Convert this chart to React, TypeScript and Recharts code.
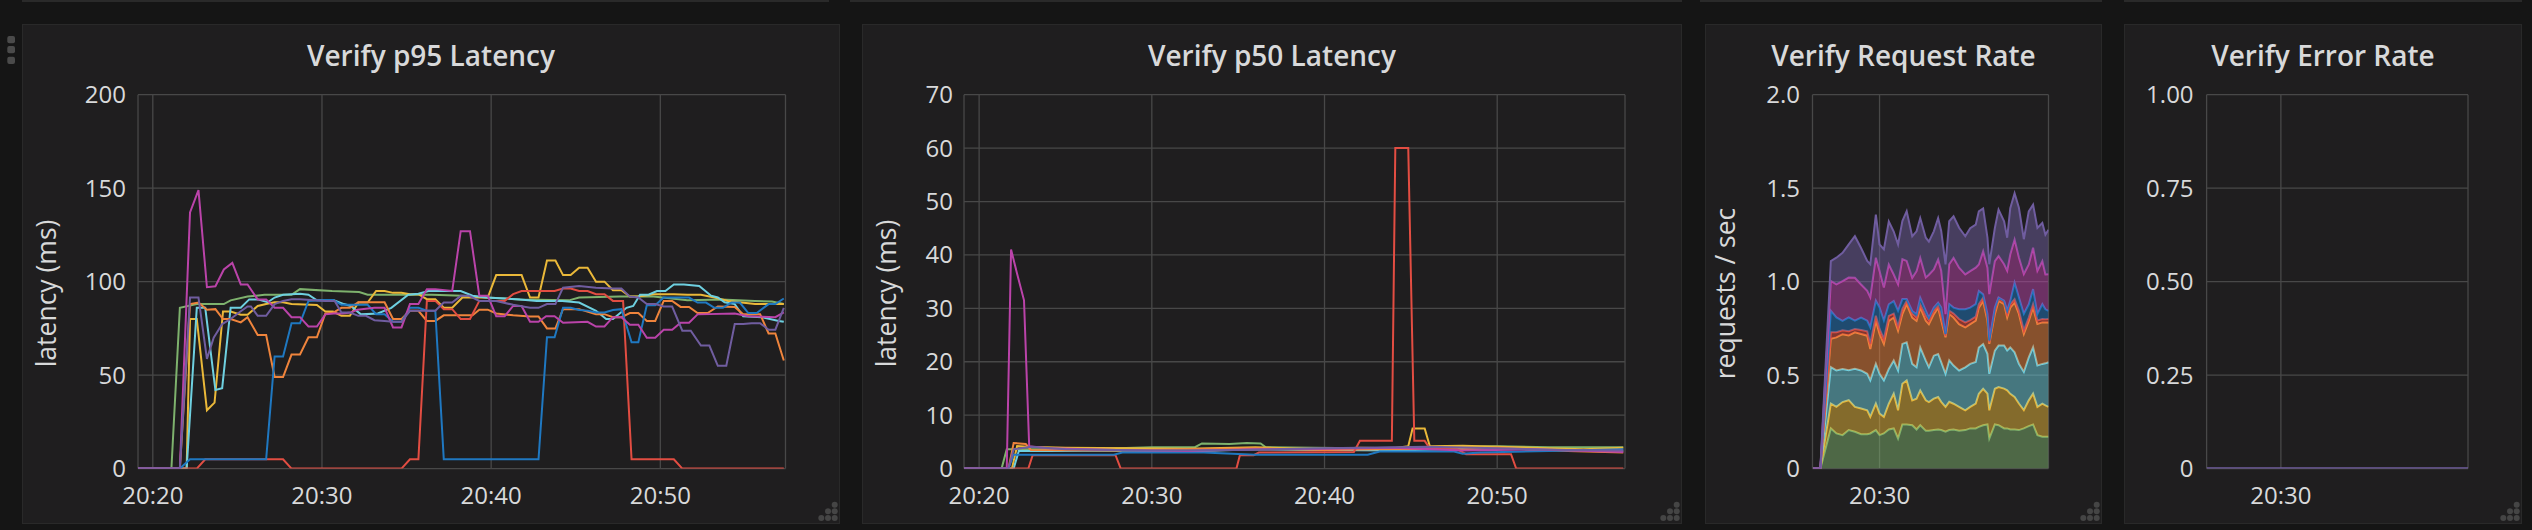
import React from 'react';
import { LineChart, Line, AreaChart, Area, XAxis, YAxis, CartesianGrid } from 'recharts';

// ---------- shared time axis (minutes after 20:20) ----------
const T_START = -0.875;
const T_END = 37.4;
const TIME_TICKS = [0, 10, 20, 30];
const NARROW_TIME_TICKS = [10];

// ---------- colours (Grafana classic palette) ----------
const GREEN = '#7EB26D';
const YELLOW = '#EAB839';
const CYAN = '#6ED0E0';
const ORANGE = '#EF843C';
const RED = '#E24D42';
const BLUE = '#1F78C1';
const MAGENTA = '#BA43A9';
const PURPLE = '#705DA0';

// ---------- Verify p95 Latency (t, ms) ----------
const p95Green: [number, number][] = [[-0.875,0],[1.1,0],[1.6,86],[2.6,88],[4.2,88],[4.6,90],[5.6,92],[6.6,93],[8.2,93],[8.7,96],[10.6,95],[12.2,94.5],[12.7,93],[16.5,93],[18.3,92.5],[19.7,91.5],[21.7,90.5],[24.6,90],[25.2,91.5],[27.6,92],[29.6,92],[31.6,90],[33.6,90.5],[35.6,89.7],[36.6,89.4],[37.3,88]];
const p95Yellow: [number, number][] = [[-0.875,0],[2.0,0],[2.2,80],[2.6,80],[3.2,31.2],[3.65,35.3],[4.15,84],[4.6,84],[5.2,82.3],[5.6,82.3],[6.2,87],[6.7,88],[7.2,89],[7.7,89],[8.2,88],[9.7,87.5],[10.2,84],[10.65,84],[11.15,81.7],[11.65,81.7],[12.15,88.8],[12.7,88.8],[13.2,95],[13.7,95],[14.2,94],[14.7,94],[15.2,93.3],[15.7,93.3],[16.2,90.6],[16.7,90.6],[17.2,86],[17.7,86],[18.3,91.5],[19.8,91.5],[20.3,103.5],[21.8,103.5],[22.3,91.5],[22.8,91.5],[23.3,111.3],[23.8,111.3],[24.25,103.5],[24.7,103.5],[25.2,107.4],[25.7,107.4],[26.2,100],[26.7,100],[27.2,95.4],[27.7,95.4],[28.2,92],[28.7,92],[29.6,93.3],[30.8,93.3],[31.6,93],[32.4,93],[33.2,91.5],[34.0,89.7],[34.8,88.8],[35.6,88],[37.3,88]];
const p95Cyan: [number, number][] = [[-0.875,0],[2.0,0],[2.6,86],[3.1,86],[3.7,42],[4.1,43],[4.6,86],[5.2,86],[5.7,90.5],[6.2,90.5],[6.8,89],[7.2,91.5],[7.7,93],[8.7,93.5],[9.2,93],[9.7,90],[10.7,90],[11.3,88],[11.7,87],[12.3,82.5],[13.3,83],[14.1,86],[15.1,93],[15.7,93.5],[16.3,95],[18.2,95],[18.9,92.5],[19.7,91.5],[21.7,90.5],[22.7,89.7],[24.2,89.7],[25.2,88.8],[26.2,84.4],[26.8,80],[27.2,80],[28.0,86],[28.4,87],[28.8,93],[29.3,93],[29.8,95],[30.3,95],[30.8,98.5],[31.4,98.5],[32.3,97.7],[33.0,92.5],[33.4,91.5],[33.8,89],[34.4,88],[34.9,81.5],[36.0,81],[37.0,79],[37.3,78.5]];
const p95Orange: [number, number][] = [[-0.875,0],[1.6,0],[2.2,88],[2.7,88.8],[3.2,85],[3.7,85.3],[4.15,80],[4.6,80],[5.2,78.2],[5.6,81],[6.2,71.5],[6.7,71.5],[7.2,49],[7.7,49],[8.2,61],[8.7,61],[9.2,70.2],[9.7,70.2],[10.2,83],[10.65,83.3],[11.15,86],[11.65,86],[12.15,89],[13.7,89],[14.2,80],[14.7,80],[15.2,84.4],[15.7,84.4],[16.2,79],[16.7,79],[17.2,82],[18.9,82],[19.3,85],[19.8,85],[20.3,83],[21.3,82],[22.3,81.4],[22.8,81.4],[23.3,75],[23.8,75],[24.25,85.3],[25.2,85.3],[26.2,82.6],[26.7,82.6],[27.2,81],[27.7,81],[28.2,83.2],[28.7,83.2],[29.2,79],[29.7,79],[30.2,89.7],[30.7,89.7],[31.2,86.5],[31.7,86.5],[32.2,83.2],[32.8,83.2],[33.4,86.7],[34.4,86.5],[34.9,82.6],[35.9,82.6],[36.4,72.3],[36.8,72.3],[37.3,57.8]];
const p95Red: [number, number][] = [[-0.875,0],[2.6,0],[3.1,5],[7.7,5],[8.2,0],[14.7,0],[15.2,5],[15.7,5],[16.2,89.7],[16.7,89.7],[17.2,85.3],[17.7,85.3],[18.2,80],[18.75,80],[19.3,89.7],[20.8,89.7],[21.3,93.3],[21.8,95],[23.75,95],[24.25,96.3],[24.7,96.3],[25.2,95],[25.7,95],[26.2,93.3],[26.7,93.3],[27.2,89.7],[27.8,89.7],[28.3,5],[30.8,5],[31.3,0],[37.3,0]];
const p95Blue: [number, number][] = [[-0.875,0],[1.6,0],[2.2,5],[6.7,5],[7.2,60],[7.7,60],[8.2,77.7],[8.7,77.7],[9.2,89.7],[10.2,90.2],[10.65,90.2],[11.15,87.6],[12.7,87.6],[13.2,82.6],[13.7,82.6],[14.2,78.5],[14.7,78.5],[15.2,86],[15.7,86],[16.2,84.4],[16.7,84.4],[17.2,5],[22.8,5],[23.3,70.2],[23.75,70.2],[24.25,86],[24.7,86],[25.2,84.8],[25.7,84.5],[26.2,83.5],[26.7,83.5],[27.2,84.8],[27.7,85.3],[28.3,67.6],[28.7,67.6],[29.2,87.4],[29.7,87.4],[30.2,91.5],[31.7,91.5],[32.2,88.8],[32.7,88.8],[33.2,86],[33.7,86],[34.2,88.8],[34.7,88.8],[35.2,83.2],[35.7,83.2],[36.4,88],[36.8,88],[37.3,91]];
const p95Magenta: [number, number][] = [[-0.875,0],[1.6,0],[2.2,137],[2.7,149],[3.2,97],[3.7,97.5],[4.2,106.5],[4.7,110],[5.2,98.5],[5.6,98.5],[6.2,90.5],[6.7,90.5],[7.2,86],[7.7,86],[8.2,81],[8.7,81],[9.2,76],[9.7,76],[10.2,82.5],[10.7,83],[11.2,83],[11.7,83.5],[12.1,85],[13.1,86],[13.7,86],[14.2,75.5],[14.7,75.5],[15.2,88],[15.7,88],[16.2,96],[16.7,96],[17.7,95],[18.2,127],[18.75,127],[19.3,92.5],[19.8,92.5],[20.3,81.5],[20.8,81.5],[21.3,87],[21.8,87],[22.3,78.5],[22.8,78.5],[23.25,81.5],[23.75,81.5],[24.25,78],[25.7,78.5],[26.2,76],[26.7,76],[27.2,81],[27.7,81],[28.2,77],[28.7,77],[29.2,70],[29.7,70],[30.2,74.3],[30.7,74.3],[31.2,78],[31.7,78],[32.2,82.5],[34.4,83],[35.2,81.5],[36.8,81],[37.3,83.5]];
const p95Purple: [number, number][] = [[-0.875,0],[1.6,0],[2.2,91.5],[2.7,91.5],[3.2,58.7],[3.6,70],[4.1,77.3],[4.6,80],[5.1,83.5],[5.6,86.7],[5.8,86.7],[6.2,81.7],[6.7,81.7],[7.2,88],[7.7,89.7],[8.2,90.6],[8.7,90.6],[10.2,89.7],[10.75,89.7],[11.15,83.5],[11.65,83.5],[12.15,81.7],[12.6,81.7],[13.1,79.4],[13.7,79],[14.2,78.5],[14.7,78.5],[15.2,84.4],[16.7,84.4],[17.2,88.8],[17.7,88.8],[18.2,92.4],[18.7,92.4],[19.3,89.7],[20.3,89.7],[21.3,87.6],[22.3,86],[22.8,86],[23.3,88],[23.8,88],[24.25,96.8],[25.2,97.7],[26.2,96.8],[27.2,96.3],[27.7,96.3],[28.2,92],[28.7,91.5],[29.2,88],[29.7,88],[30.2,86.7],[30.7,86.7],[31.3,73.8],[31.8,73.8],[32.4,65.8],[32.9,65.8],[33.4,55],[33.9,55],[34.4,77.3],[34.9,77.3],[35.4,77.8],[35.9,77.8],[36.4,74.3],[36.8,74.3],[37.3,86]];

// ---------- Verify p50 Latency (t, ms) ----------
const p50Green: [number, number][] = [[-0.875,0],[1.3,0],[1.6,3.6],[4,3.6],[7,3.7],[10,4.0],[12.5,4.0],[12.9,4.7],[14.5,4.6],[15.5,4.8],[16.3,4.7],[16.6,4.0],[22,3.8],[25,3.9],[30,4.2],[33,4.0],[37.3,4.0]];
const p50Yellow: [number, number][] = [[-0.875,0],[1.9,0],[2.2,4.2],[2.8,4.1],[5,3.9],[9,3.8],[12,3.7],[16,4.0],[20,3.6],[22,3.9],[24,3.8],[24.85,4.2],[25.1,7.5],[25.8,7.5],[26.1,4.2],[28,4.3],[32,3.9],[35,3.6],[37.3,3.9]];
const p50Cyan: [number, number][] = [[-0.875,0],[2.0,0],[2.3,3.3],[4,3.3],[8,3.4],[12,3.2],[16,3.6],[20,3.5],[24,3.4],[27,3.6],[30,3.8],[33,3.5],[37.3,3.4]];
const p50Orange: [number, number][] = [[-0.875,0],[1.7,0],[2.0,4.8],[2.7,4.6],[3.0,3.5],[8,3.4],[12,3.6],[16,3.8],[20,3.5],[25,3.7],[28,3.6],[30,3.9],[33,3.4],[37.3,3.0]];
const p50Red: [number, number][] = [[-0.875,0],[2.85,0],[3.1,2.5],[7.9,2.5],[8.2,0],[14.9,0],[15.1,2.5],[15.9,2.5],[16.2,3.0],[21.7,3.1],[22.05,5.2],[23.9,5.2],[24.1,60],[24.85,60],[25.2,5.2],[25.8,5.2],[26.1,3.75],[27.7,3.6],[28.2,2.7],[30.8,2.7],[31.1,0],[37.3,0]];
const p50Blue: [number, number][] = [[-0.875,0],[1.7,0],[2.0,2.6],[7.8,2.6],[8.3,3.0],[13,3.0],[16,2.6],[22.5,2.6],[23.2,3.2],[27.5,3.2],[28,2.8],[29,3.0],[33,3.3],[37.3,3.6]];
const p50Magenta: [number, number][] = [[-0.875,0],[1.6,0],[1.85,41],[2.2,36.5],[2.6,31.5],[2.9,4.2],[4,3.8],[8,3.5],[12,3.3],[16,3.6],[20,3.7],[24,3.9],[28,3.4],[32,3.6],[37.3,3.1]];
const p50Purple: [number, number][] = [[-0.875,0],[1.7,0],[2.0,3.6],[3,4.1],[5,3.6],[10,3.4],[15,3.5],[20,3.8],[24,4.0],[26,4.1],[30,3.8],[34,3.5],[37.3,3.4]];

// ---------- Verify Request Rate (stacked, requests / sec) ----------
const rateTimes = [-0.8,0.4,2.1,3.0,4.0,5.0,6.0,7.0,8.0,8.5,9.4,10.0,10.7,11.5,12.3,13.0,13.7,14.4,15.3,16.0,16.6,17.5,18.0,18.8,19.5,20.0,20.7,21.3,22.0,22.9,23.9,24.7,25.6,26.1,26.8,27.5,27.8,28.7,29.3,30.2,30.7,31.2,31.9,32.6,33.4,34.2,34.9,35.6,36.4,36.9,37.4];
const rateGreen = [0,0,0.215,0.188,0.179,0.206,0.197,0.184,0.184,0.188,0.206,0.179,0.188,0.209,0.215,0.161,0.236,0.236,0.232,0.209,0.232,0.202,0.202,0.206,0.209,0.206,0.197,0.206,0.209,0.202,0.206,0.215,0.215,0.223,0.232,0.236,0.161,0.236,0.232,0.215,0.215,0.209,0.209,0.206,0.215,0.227,0.236,0.179,0.170,0.170,0.170];
const rateYellow = [0,0,0.133,0.142,0.177,0.160,0.133,0.137,0.128,0.089,0.142,0.115,0.089,0.138,0.186,0.151,0.218,0.236,0.133,0.165,0.186,0.163,0.154,0.168,0.174,0.151,0.133,0.151,0.138,0.128,0.106,0.115,0.133,0.177,0.195,0.165,0.151,0.191,0.204,0.213,0.204,0.191,0.174,0.142,0.098,0.138,0.165,0.151,0.177,0.168,0.160];
const rateCyan = [0,0,0.195,0.195,0.177,0.160,0.204,0.204,0.195,0.195,0.213,0.213,0.195,0.186,0.177,0.213,0.213,0.204,0.195,0.168,0.230,0.213,0.186,0.230,0.230,0.213,0.177,0.222,0.204,0.195,0.230,0.230,0.222,0.248,0.239,0.213,0.195,0.204,0.222,0.230,0.213,0.248,0.239,0.213,0.204,0.230,0.248,0.222,0.213,0.225,0.239];
const rateOrange = [0,0,0.151,0.177,0.186,0.186,0.195,0.195,0.204,0.168,0.230,0.213,0.195,0.257,0.230,0.213,0.160,0.204,0.248,0.248,0.213,0.213,0.230,0.222,0.248,0.222,0.195,0.248,0.257,0.248,0.213,0.213,0.222,0.213,0.230,0.177,0.160,0.195,0.239,0.222,0.177,0.213,0.266,0.266,0.204,0.195,0.213,0.222,0.222,0.218,0.213];
const rateRed = [0,0,0.035,0.027,0.021,0.023,0.018,0.021,0.023,0.027,0.027,0.027,0.027,0.027,0.021,0.021,0.027,0.018,0.021,0.018,0.018,0.027,0.021,0.021,0.009,0.027,0.009,0.018,0.021,0.027,0.027,0.021,0.021,0.018,0.018,0.018,0.009,0.018,0.014,0.014,0.018,0.018,0.018,0.018,0.018,0.018,0.018,0.018,0.018,0.018,0.018];
const rateBlue = [0,0,0.115,0.080,0.050,0.074,0.044,0.067,0.057,0.089,0.080,0.115,0.098,0.062,0.067,0.085,0.053,0.009,0.014,0.018,0.035,0.027,0.014,0.014,0.018,0.044,0.009,0.035,0.032,0.053,0.071,0.067,0.067,0.071,0.018,0.018,0.009,0.018,0.004,0.004,0.018,0.018,0.089,0.071,0.089,0.071,0.080,0.035,0.080,0.053,0.044];
const rateMagenta = [0,0,0.160,0.177,0.213,0.213,0.230,0.177,0.160,0.160,0.230,0.195,0.177,0.213,0.142,0.142,0.213,0.204,0.177,0.230,0.213,0.177,0.230,0.204,0.230,0.195,0.106,0.213,0.266,0.222,0.186,0.195,0.195,0.142,0.230,0.248,0.248,0.248,0.222,0.195,0.213,0.248,0.230,0.213,0.213,0.213,0.222,0.230,0.230,0.186,0.195];
const ratePurple = [0,0,0.106,0.142,0.151,0.177,0.222,0.195,0.160,0.177,0.230,0.142,0.204,0.230,0.230,0.213,0.204,0.266,0.222,0.213,0.213,0.213,0.177,0.204,0.222,0.213,0.266,0.230,0.222,0.213,0.204,0.230,0.230,0.284,0.230,0.160,0.160,0.177,0.248,0.230,0.177,0.248,0.248,0.266,0.186,0.284,0.230,0.230,0.204,0.213,0.239];

// ---------- Verify Error Rate ----------
const errorPurple: [number, number][] = [[-0.875,0],[37.4,0]];

// ---------- tick values ----------
const p95Ticks = [0, 50, 100, 150, 200];
const p50Ticks = [0, 10, 20, 30, 40, 50, 60, 70];
const rateTicks = [0, 0.5, 1, 1.5, 2];
const errorTicks = [0, 0.25, 0.5, 0.75, 1];

// ---------- helpers / styles ----------
const FONT = "'Open Sans', 'DejaVu Sans', sans-serif";
const TEXT = '#d8d9da';
const GRID = '#484848';
const PANEL_BG = '#1f1e1f';
const PANEL_BORDER = '#292929';
const PAGE_BG = '#151515';
const tickStyle = { fill: TEXT, fontSize: 24, fontFamily: FONT };

const toPts = (arr: [number, number][]) => arr.map(([t, v]) => ({ t, v }));
const fmtTime = (t: number) => `20:${20 + t}`;
const fmtRate = (v: number) => (v === 0 ? '0' : v.toFixed(1));
const fmtErr = (v: number) => (v === 0 ? '0' : v.toFixed(2));

const p95Series = [
  { name: 'green', color: GREEN, data: p95Green },
  { name: 'yellow', color: YELLOW, data: p95Yellow },
  { name: 'cyan', color: CYAN, data: p95Cyan },
  { name: 'orange', color: ORANGE, data: p95Orange },
  { name: 'red', color: RED, data: p95Red },
  { name: 'blue', color: BLUE, data: p95Blue },
  { name: 'magenta', color: MAGENTA, data: p95Magenta },
  { name: 'purple', color: PURPLE, data: p95Purple },
];
const p50Series = [
  { name: 'green', color: GREEN, data: p50Green },
  { name: 'yellow', color: YELLOW, data: p50Yellow },
  { name: 'cyan', color: CYAN, data: p50Cyan },
  { name: 'orange', color: ORANGE, data: p50Orange },
  { name: 'red', color: RED, data: p50Red },
  { name: 'blue', color: BLUE, data: p50Blue },
  { name: 'magenta', color: MAGENTA, data: p50Magenta },
  { name: 'purple', color: PURPLE, data: p50Purple },
];
const rateSeries = [
  { key: 'green', color: GREEN, values: rateGreen },
  { key: 'yellow', color: YELLOW, values: rateYellow },
  { key: 'cyan', color: CYAN, values: rateCyan },
  { key: 'orange', color: ORANGE, values: rateOrange },
  { key: 'red', color: RED, values: rateRed },
  { key: 'blue', color: BLUE, values: rateBlue },
  { key: 'magenta', color: MAGENTA, values: rateMagenta },
  { key: 'purple', color: PURPLE, values: ratePurple },
];
const rateRows = rateTimes.map((t, i) => {
  const row: Record<string, number> = { t };
  rateSeries.forEach((s) => { row[s.key] = s.values[i]; });
  return row;
});

// panel geometry (page pixels)
const PLOT_TOP = 94.7;
const PLOT_BOTTOM = 468.6;
const PANEL_TOP = 24;
const PANEL_H = 500;
const LABEL_SIZE = 26.5;
const panels = [
  { title: 'Verify p95 Latency', left: 22, width: 818, plotLeft: 138, plotRight: 785.5, tickGap: 12, yLabel: 'latency (ms)', yLabelX: 55.6 },
  { title: 'Verify p50 Latency', left: 862, width: 820, plotLeft: 964, plotRight: 1625, tickGap: 11, yLabel: 'latency (ms)', yLabelX: 896 },
  { title: 'Verify Request Rate', left: 1705, width: 397, plotLeft: 1812.5, plotRight: 2048.5, tickGap: 12.5, yLabel: 'requests / sec', yLabelX: 1735 },
  { title: 'Verify Error Rate', left: 2124, width: 398, plotLeft: 2206.6, plotRight: 2468, tickGap: 13, yLabel: '', yLabelX: 0 },
];

function chartBox(i: number) {
  const p = panels[i];
  return {
    style: { position: 'absolute' as const, left: p.left, top: PANEL_TOP },
    width: p.width,
    height: PANEL_H,
    margin: { top: PLOT_TOP - PANEL_TOP, right: p.left + p.width - p.plotRight, left: 0, bottom: 0 },
    yWidth: p.plotLeft - p.left,
    xHeight: PANEL_TOP + PANEL_H - PLOT_BOTTOM,
    tickGap: p.tickGap,
  };
}

function xAxisProps(ticks: number[], h: number) {
  return {
    type: 'number' as const,
    dataKey: 't',
    domain: [T_START, T_END] as [number, number],
    ticks,
    interval: 0 as const,
    tickFormatter: fmtTime,
    axisLine: false,
    tickLine: false,
    tickSize: 0,
    tickMargin: 18,
    height: h,
    allowDataOverflow: true,
    tick: tickStyle,
  };
}

function LatencyChart({ index, series, ticks, max }: { index: number; series: { name: string; color: string; data: [number, number][] }[]; ticks: number[]; max: number }) {
  const b = chartBox(index);
  return (
    <div style={b.style}>
      <LineChart width={b.width} height={b.height} margin={b.margin}>
        <CartesianGrid stroke={GRID} strokeWidth={1.3} />
        <XAxis {...xAxisProps(TIME_TICKS, b.xHeight)} />
        <YAxis type="number" domain={[0, max]} ticks={ticks} interval={0} width={b.yWidth} axisLine={false} tickLine={false} tickSize={0} tickMargin={b.tickGap} tick={tickStyle} allowDataOverflow />
        {series.map((s) => (
          <Line key={s.name} data={toPts(s.data)} dataKey="v" type="linear" stroke={s.color} strokeWidth={2} dot={false} activeDot={false} isAnimationActive={false} />
        ))}
      </LineChart>
    </div>
  );
}

function RateChart() {
  const b = chartBox(2);
  return (
    <div style={b.style}>
      <AreaChart width={b.width} height={b.height} margin={b.margin} data={rateRows}>
        <CartesianGrid stroke={GRID} strokeWidth={1.3} />
        <XAxis {...xAxisProps(NARROW_TIME_TICKS, b.xHeight)} />
        <YAxis type="number" domain={[0, 2]} ticks={rateTicks} interval={0} tickFormatter={fmtRate} width={b.yWidth} axisLine={false} tickLine={false} tickSize={0} tickMargin={b.tickGap} tick={tickStyle} allowDataOverflow />
        {rateSeries.map((s) => (
          <Area key={s.key} dataKey={s.key} stackId="rate" type="linear" stroke={s.color} strokeWidth={2} fill={s.color} fillOpacity={0.5} dot={false} activeDot={false} isAnimationActive={false} />
        ))}
      </AreaChart>
    </div>
  );
}

function ErrorChart() {
  const b = chartBox(3);
  return (
    <div style={b.style}>
      <LineChart width={b.width} height={b.height} margin={b.margin}>
        <CartesianGrid stroke={GRID} strokeWidth={1.3} />
        <XAxis {...xAxisProps(NARROW_TIME_TICKS, b.xHeight)} />
        <YAxis type="number" domain={[0, 1]} ticks={errorTicks} interval={0} tickFormatter={fmtErr} width={b.yWidth} axisLine={false} tickLine={false} tickSize={0} tickMargin={b.tickGap} tick={tickStyle} allowDataOverflow />
        <Line data={toPts(errorPurple)} dataKey="v" type="linear" stroke={PURPLE} strokeWidth={2.5} dot={false} activeDot={false} isAnimationActive={false} />
      </LineChart>
    </div>
  );
}

function ResizeHandle({ right, bottom }: { right: number; bottom: number }) {
  const pts = [
    [right - 18.7, bottom - 6], [right - 12, bottom - 6], [right - 5.3, bottom - 6],
    [right - 12, bottom - 12.7], [right - 5.3, bottom - 12.7],
    [right - 5.3, bottom - 19.3],
  ];
  return (
    <g fill="#454545">
      {pts.map(([cx, cy], i) => <circle key={i} cx={cx} cy={cy} r={3} />)}
    </g>
  );
}

export default function App() {
  return (
    <div style={{ position: 'absolute', left: 0, top: 0, width: 2532, height: 530, background: PAGE_BG, overflow: 'hidden', fontFamily: FONT }}>
      {/* bottom edges of the panel row above */}
      {[[22, 829], [850, 1682], [1700, 2102], [2124, 2522]].map(([a, c], i) => (
        <div key={i} style={{ position: 'absolute', left: a, top: 0, width: c - a, height: 2, background: '#2a2a2a' }} />
      ))}
      {/* panel frames */}
      {panels.map((p) => (
        <div key={p.title} style={{ position: 'absolute', left: p.left, top: PANEL_TOP, width: p.width, height: PANEL_H, boxSizing: 'border-box', background: PANEL_BG, border: `1.5px solid ${PANEL_BORDER}` }} />
      ))}
      <LatencyChart index={0} series={p95Series} ticks={p95Ticks} max={200} />
      <LatencyChart index={1} series={p50Series} ticks={p50Ticks} max={70} />
      <RateChart />
      <ErrorChart />
      <svg width={2532} height={530} style={{ position: 'absolute', left: 0, top: 0, pointerEvents: 'none' }}>
        {/* drag handle */}
        <g fill="#4a4a4a">
          <rect x={7.3} y={36} width={7.7} height={7.3} rx={2} />
          <rect x={7.3} y={46} width={7.7} height={7.3} rx={2} />
          <rect x={7.3} y={56.7} width={7.7} height={7.3} rx={2} />
        </g>
        {panels.map((p) => (
          <g key={p.title}>
            <text x={p.left + p.width / 2} y={66} textAnchor="middle" fill={TEXT} fontFamily={FONT} fontSize={28} fontWeight={600}>{p.title}</text>
            {p.yLabel && (
              <text x={p.yLabelX} y={293.5} transform={`rotate(-90 ${p.yLabelX} 293.5)`} textAnchor="middle" fill={TEXT} fontFamily={FONT} fontSize={LABEL_SIZE}>{p.yLabel}</text>
            )}
            <ResizeHandle right={p.left + p.width} bottom={PANEL_TOP + PANEL_H} />
          </g>
        ))}
      </svg>
    </div>
  );
}
